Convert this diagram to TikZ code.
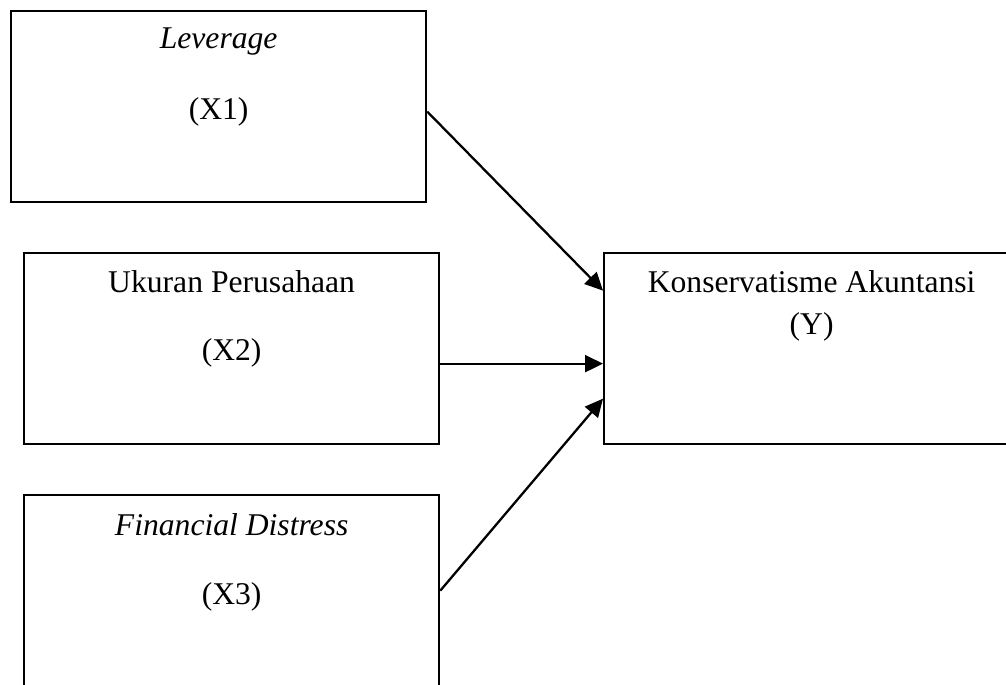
\documentclass[tikz,border=0pt]{standalone}
\usepackage{fontspec}
\setmainfont{Liberation Serif}
\usetikzlibrary{arrows.meta,positioning}

\begin{document}
\begin{tikzpicture}[
  box/.style={rectangle, draw, line width=1.3pt, minimum width=8.3cm, minimum height=3.82cm, inner sep=0pt, anchor=north west},
  txt/.style={inner sep=0pt, font=\fontsize{18}{21}\selectfont},
  arrow/.style={-{Triangle[length=0.36cm,width=0.34cm]}, line width=1.3pt}
]
  \clip (0,0) rectangle (20.12,-13.68);
  % boxes
  \node[box] (lev) at (0.2,-0.2) {};
  \node[box] (uk) at (0.46,-5.04) {};
  \node[box] (fd) at (0.46,-9.88) {};
  \node[box] (kon) at (12.06,-5.04) {};
  % texts
  \node[txt] (levt) at ([yshift=-0.64cm]lev.north) {\itshape Leverage};
  \node[txt] (levx) at ([yshift=-2.04cm]lev.north) {(X1)};
  \node[txt] (ukt) at ([yshift=-0.6cm]uk.north) {Ukuran Perusahaan};
  \node[txt] (ukx) at ([yshift=-2.02cm]uk.north) {(X2)};
  \node[txt] (fdt) at ([yshift=-0.62cm]fd.north) {\itshape Financial Distress};
  \node[txt] (fdx) at ([yshift=-2.06cm]fd.north) {(X3)};
  \node[txt] (kont) at ([yshift=-0.6cm]kon.north) {Konservatisme Akuntansi};
  \node[txt] (konx) at ([yshift=-1.5cm]kon.north) {(Y)};
  % arrows
  \draw[arrow] ([yshift=-0.1cm]lev.east) -- ([yshift=1.16cm]kon.west);
  \draw[arrow] ([yshift=-0.3cm]uk.east) -- ([yshift=-0.3cm]kon.west);
  \draw[arrow] (fd.east) -- ([yshift=-1.0cm]kon.west);
\end{tikzpicture}
\end{document}
